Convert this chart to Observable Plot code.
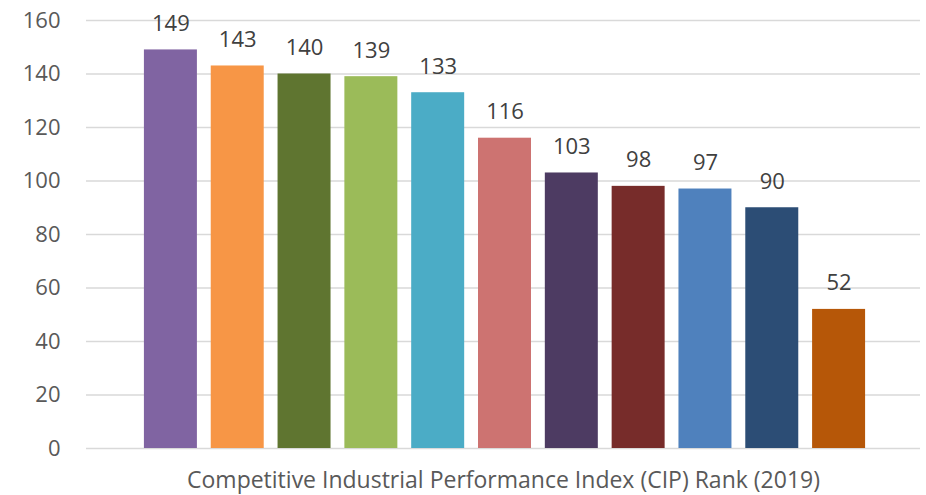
<!DOCTYPE html>
<html>
<head>
<meta charset="utf-8">
<script src="https://cdn.jsdelivr.net/npm/d3@7"></script>
<script src="https://cdn.jsdelivr.net/npm/@observablehq/plot@0.6"></script>
<style>
  html, body { margin: 0; padding: 0; background: #fff; }
</style>
</head>
<body>
<div id="chart"></div>
<script>
const categories = ["c1","c2","c3","c4","c5","c6","c7","c8","c9","c10","c11"];
const values = [149, 143, 140, 139, 133, 116, 103, 98, 97, 90, 52];
const colors = ["#8064A2","#F79646","#5F7530","#9BBB59","#4BACC6","#CD7371","#4D3B62","#772C2A","#4F81BD","#2C4D75","#B65708"];
const yTicks = [0, 20, 40, 60, 80, 100, 120, 140, 160];
const xTitle = "Competitive Industrial Performance Index (CIP) Rank (2019)";

const data = categories.map((c, i) => ({cat: c, value: values[i], color: colors[i]}));

const chart = Plot.plot({
  width: 926,
  height: 495,
  marginLeft: 86,
  marginRight: 6,
  marginTop: 20,
  marginBottom: 47,
  style: {fontFamily: "'Open Sans', sans-serif", fontSize: "22px", color: "#595959", background: "#fff"},
  x: {domain: categories, range: [137, 872], paddingInner: 0.207, paddingOuter: 0.1035, round: false, label: null, axis: null},
  y: {domain: [0, 160], ticks: yTicks, label: null},
  marks: [
    Plot.ruleY(yTicks, {stroke: "#d9d9d9", strokeWidth: 1.5}),
    Plot.axisY({ticks: yTicks, tickSize: 0, tickPadding: 26, fontSize: 22, fill: "#595959", label: null}),
    Plot.barY(data, {x: "cat", y: "value", fill: "color"}),
    Plot.text(data, {x: "cat", y: "value", text: d => String(d.value), dy: -26, fill: "#404040", fontSize: 22}),
    Plot.text([xTitle], {frameAnchor: "bottom", lineAnchor: "middle", dy: 32, text: d => d, fill: "#595959", fontSize: 23})
  ]
});
document.getElementById("chart").appendChild(chart);
</script>
</body>
</html>
